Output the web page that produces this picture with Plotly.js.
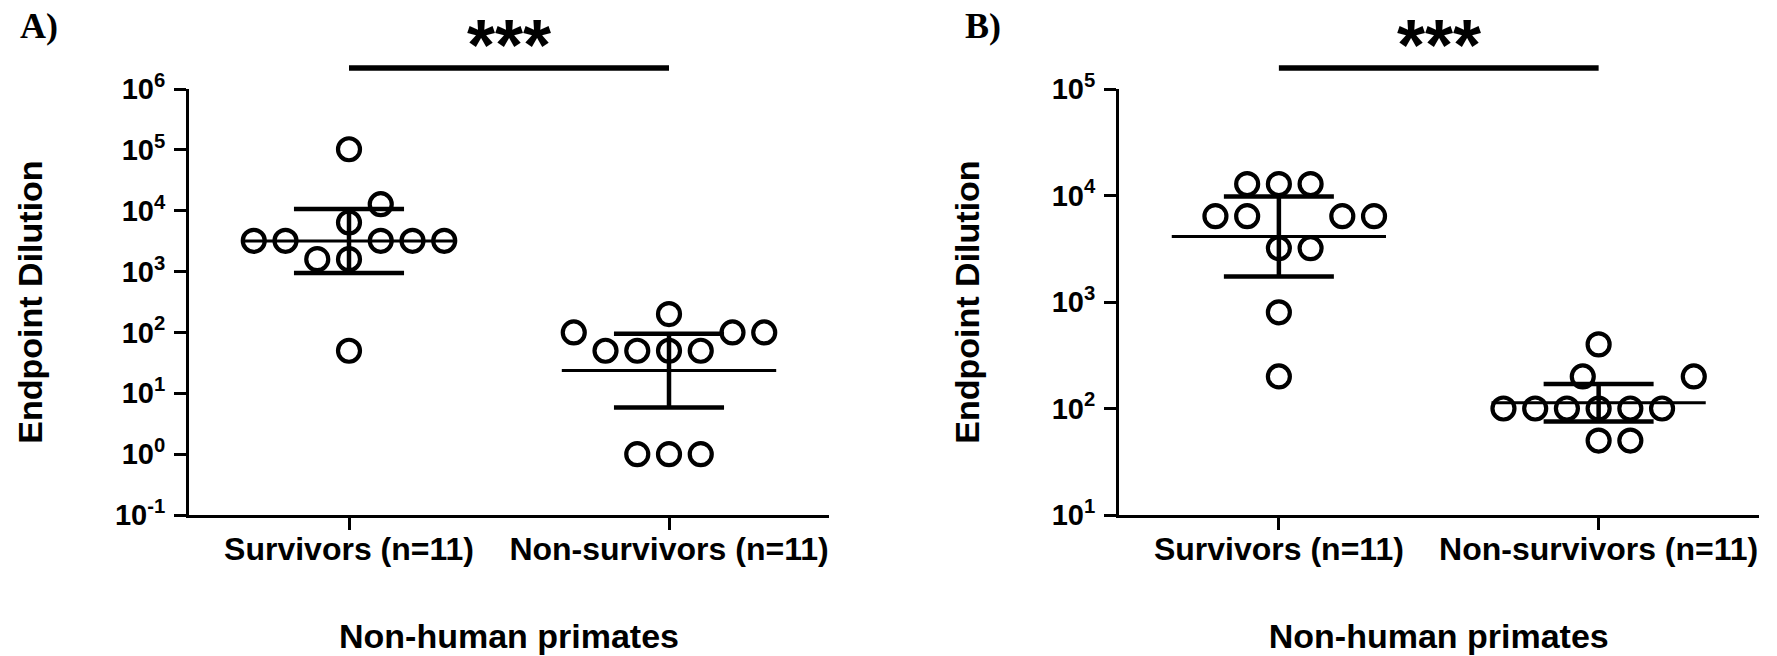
<!DOCTYPE html>
<html><head><meta charset="utf-8">
<script src="https://cdn.plot.ly/plotly-3.0.1.min.js"></script>
<style>html,body{margin:0;padding:0;background:#fff}#chart{width:1777px;height:656px}</style>
</head><body><div id="chart"></div>
<script>
// ---------------- DATA ----------------
const categories = ['Survivors (n=11)', 'Non-survivors (n=11)'];
const groupTitle = 'Non-human primates';
const yTitle = 'Endpoint Dilution';
const panelLabels = ['A)', 'B)'];
const sigText = '***';

// Panel A
const aSurvivors    = [102400, 12800, 6400, 3200, 3200, 3200, 3200, 3200, 1600, 1600, 50];
const aNonSurvivors = [200, 100, 100, 100, 50, 50, 50, 50, 1, 1, 1];
const aMean  = [3190, 23.6];
const aUpper = [10700, 95];
const aLower = [950, 5.85];
const aTickVals = [0.1, 1, 10, 100, 1e3, 1e4, 1e5, 1e6];
const aTickText = ['10<sup>-1</sup>', '10<sup>0</sup>', '10<sup>1</sup>', '10<sup>2</sup>', '10<sup>3</sup>', '10<sup>4</sup>', '10<sup>5</sup>', '10<sup>6</sup>'];

// Panel B
const bSurvivors    = [12800, 12800, 12800, 6400, 6400, 6400, 6400, 3200, 3200, 800, 200];
const bNonSurvivors = [400, 200, 200, 100, 100, 100, 100, 100, 100, 50, 50];
const bMean  = [4117, 113];
const bUpper = [9800, 170];
const bLower = [1740, 75.5];
const bTickVals = [10, 100, 1e3, 1e4, 1e5];
const bTickText = ['10<sup>1</sup>', '10<sup>2</sup>', '10<sup>3</sup>', '10<sup>4</sup>', '10<sup>5</sup>'];

// ---------------- LAYOUT / STYLE (not data) ----------------
// swarm slot index of each point (horizontal dodge, in marker widths)
const SWARM = {
  aS: [0, 1, 0, -3, -2, 1, 2, 3, -1, 0, 0],
  aN: [0, -3, 2, 3, -2, -1, 0, 1, -1, 0, 1],
  bS: [-1, 0, 1, -2, -1, 2, 3, 0, 1, 0, 0],
  bN: [0, -0.5, 3, -3, -2, -1, 0, 1, 2, 0, 1]
};
const SLOT = 0.0992, MEAN_HALF = 0.335, CAP_HALF = 0.172;
const W = 1777, H = 656;
const FONT = 'Liberation Sans, Arial, sans-serif';
const yBot = (H - 515) / H, yTop = (H - 89) / H;

function panel(xa, ya, groups, slots, means, uppers, lowers) {
  const tr = [];
  groups.forEach((vals, i) => {
    tr.push({type: 'scatter', mode: 'lines', xaxis: xa, yaxis: ya, hoverinfo: 'skip',
      x: [i - MEAN_HALF, i + MEAN_HALF], y: [means[i], means[i]],
      line: {color: '#000', width: 3}});
    tr.push({type: 'scatter', mode: 'lines', xaxis: xa, yaxis: ya, hoverinfo: 'skip',
      x: [i, i, null, i - CAP_HALF, i + CAP_HALF, null, i - CAP_HALF, i + CAP_HALF],
      y: [lowers[i], uppers[i], null, uppers[i], uppers[i], null, lowers[i], lowers[i]],
      line: {color: '#000', width: 4.5}});
    tr.push({type: 'scatter', mode: 'markers', xaxis: xa, yaxis: ya, name: categories[i],
      x: vals.map((v, k) => i + slots[i][k] * SLOT), y: vals,
      marker: {symbol: 'circle-open', size: 22, color: '#000', line: {width: 4.2, color: '#000'}}});
  });
  return tr;
}

const data = [
  ...panel('x', 'y', [aSurvivors, aNonSurvivors], [SWARM.aS, SWARM.aN], aMean, aUpper, aLower),
  ...panel('x2', 'y2', [bSurvivors, bNonSurvivors], [SWARM.bS, SWARM.bN], bMean, bUpper, bLower)
];

function xAxis(dom) {
  return {domain: dom, anchor: dom[0] < 0.5 ? 'y' : 'y2', range: [-0.5, 1.5], tickvals: [0, 1], ticktext: categories,
    showline: true, linewidth: 3, linecolor: '#000', ticks: 'outside', ticklen: 12, tickwidth: 3, tickcolor: '#000',
    showgrid: false, zeroline: false, ticklabelstandoff: -8,
    tickfont: {family: FONT, size: 32, color: '#000', weight: 'bold'},
    title: {text: groupTitle, standoff: 58, font: {family: FONT, size: 34, color: '#000', weight: 'bold'}}};
}
function yAxis(xa, range, tv, tt) {
  return {domain: [yBot, yTop], anchor: xa, type: 'log', range: range, tickvals: tv, ticktext: tt,
    showline: true, linewidth: 3, linecolor: '#000', ticks: 'outside', ticklen: 12, tickwidth: 3, tickcolor: '#000',
    showgrid: false, zeroline: false, ticklabelstandoff: 3,
    tickfont: {family: FONT, size: 29, color: '#000', weight: 'bold'},
    title: {text: yTitle, standoff: 62, font: {family: FONT, size: 34, color: '#000', weight: 'bold'}}};
}

const sigY = (H - 68) / H;
const starY = (H - 45) / H;
const layout = {
  width: W, height: H, margin: {l: 0, r: 0, t: 0, b: 0}, paper_bgcolor: '#fff', plot_bgcolor: 'rgba(0,0,0,0)',
  showlegend: false,
  xaxis: xAxis([189 / W, 829 / W]),
  yaxis: yAxis('x', [-1, 6], aTickVals, aTickText),
  xaxis2: xAxis([1119 / W, 1758.5 / W]),
  yaxis2: yAxis('x2', [1, 5], bTickVals, bTickText),
  shapes: [
    {type: 'line', xref: 'x', yref: 'paper', x0: 0, x1: 1, y0: sigY, y1: sigY, line: {color: '#000', width: 5.5}},
    {type: 'line', xref: 'x2', yref: 'paper', x0: 0, x1: 1, y0: sigY, y1: sigY, line: {color: '#000', width: 5.5}}
  ],
  annotations: [
    {text: panelLabels[0], xref: 'paper', yref: 'paper', x: 18 / W, y: (H - 26) / H, xanchor: 'left', yanchor: 'middle', showarrow: false,
      font: {family: 'Liberation Serif, Times New Roman, serif', size: 36, color: '#000', weight: 'bold'}},
    {text: panelLabels[1], xref: 'paper', yref: 'paper', x: 963 / W, y: (H - 26) / H, xanchor: 'left', yanchor: 'middle', showarrow: false,
      font: {family: 'Liberation Serif, Times New Roman, serif', size: 36, color: '#000', weight: 'bold'}},
    {text: sigText, xref: 'x', yref: 'paper', x: 0.5, y: starY, xanchor: 'center', yanchor: 'middle', showarrow: false,
      font: {family: FONT, size: 72, color: '#000', weight: 'bold'}},
    {text: sigText, xref: 'x2', yref: 'paper', x: 0.5, y: starY, xanchor: 'center', yanchor: 'middle', showarrow: false,
      font: {family: FONT, size: 72, color: '#000', weight: 'bold'}}
  ]
};

Plotly.newPlot('chart', data, layout, {displayModeBar: false, staticPlot: true});
</script>
</body></html>
